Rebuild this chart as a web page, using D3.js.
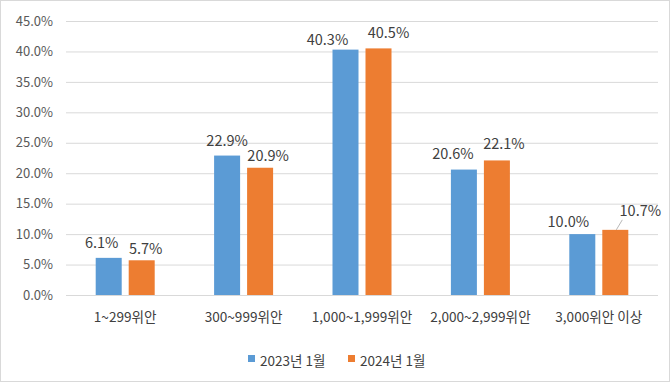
<!DOCTYPE html>
<html><head><meta charset="utf-8">
<script src="https://cdn.jsdelivr.net/npm/d3@7"></script>
<style>body{margin:0;background:#fff}svg{display:block}text{font-family:"Noto Sans CJK KR","Noto Sans",sans-serif}</style>
</head><body>
<svg id="c" width="670" height="382"></svg>
<script>
const categories = ["1~299위안","300~999위안","1,000~1,999위안","2,000~2,999위안","3,000위안 이상"];
const series2023 = [6.1,22.9,40.3,20.6,10.0];
const series2024 = [5.7,20.9,40.5,22.1,10.7];
const seriesNames = ["2023년 1월","2024년 1월"];
const colors = ["#5b9bd5","#ed7d31"];
const yTicks = [0,5,10,15,20,25,30,35,40,45];
// manual label nudges (dx, dy) as placed in the original chart
const labelNudge2023 = [[-7,-2],[0,-2],[-18,3],[-11,-2.5],[-14,1]];
const labelNudge2024 = [[4,2],[8,1],[10,-2],[7,-3],[25,-6]];

const svg = d3.select("#c");
svg.append("rect").attr("x",0.5).attr("y",0.5).attr("width",669).attr("height",381)
  .attr("fill","#fff").attr("stroke","#d9d9d9");

const pL=66,pR=658,pT=21,pB=295;
const x = d3.scaleBand().domain(categories).range([pL,pR]);
const y = d3.scaleLinear().domain([0,45]).range([pB,pT]);
const bw=26, gap=7;

const g = svg.append("g");
const yAxis = d3.axisLeft(y).tickValues(yTicks).tickSize(-(pR-pL)).tickFormat(d=>d.toFixed(1)+"%");
const ya = g.append("g").attr("transform",`translate(${pL},0)`).call(yAxis);
ya.select(".domain").remove();
ya.selectAll(".tick line").attr("stroke","#d9d9d9");
ya.selectAll(".tick text").attr("x",-13).attr("fill","#595959").style("font-size","13px");

const xAxis = d3.axisBottom(x).tickSize(0);
const xa = g.append("g").attr("transform",`translate(0,${pB})`).call(xAxis);
xa.select(".domain").remove();
xa.selectAll(".tick text").attr("dy",0).attr("y",27).attr("fill","#404040").style("font-size","13.6px");

const data = [series2023, series2024];
const nudges = [labelNudge2023, labelNudge2024];
data.forEach((vals,si)=>{
  const off = si===0 ? -(bw+gap/2) : gap/2;
  const cx = i => x(categories[i])+x.bandwidth()/2+off+bw/2;
  g.selectAll(".bar"+si).data(vals).enter().append("rect")
    .attr("x",(d,i)=>cx(i)-bw/2)
    .attr("y",d=>y(d)).attr("width",bw).attr("height",d=>pB-y(d))
    .attr("fill",colors[si]);
  g.selectAll(".lab"+si).data(vals).enter().append("text")
    .attr("x",(d,i)=>cx(i)+nudges[si][i][0])
    .attr("y",(d,i)=>y(d)-8+nudges[si][i][1])
    .attr("text-anchor","middle").attr("fill","#404040").style("font-size","14.5px")
    .text(d=>d.toFixed(1)+"%");
});
// leader line for 10.7%
const lx = x(categories[4])+x.bandwidth()/2+gap/2+bw/2;
g.append("line").attr("x1",lx+7).attr("y1",y(series2024[4])-10).attr("x2",lx+1).attr("y2",y(series2024[4]))
  .attr("stroke","#a6a6a6").attr("stroke-width",0.8);

// legend
const leg = svg.append("g");
const lpos=[248,348];
seriesNames.forEach((n,i)=>{
  leg.append("rect").attr("x",lpos[i]).attr("y",355).attr("width",7).attr("height",7).attr("fill",colors[i]);
  leg.append("text").attr("x",lpos[i]+12).attr("y",366).attr("fill","#404040").style("font-size","13.5px").text(n);
});
</script>
</body></html>
